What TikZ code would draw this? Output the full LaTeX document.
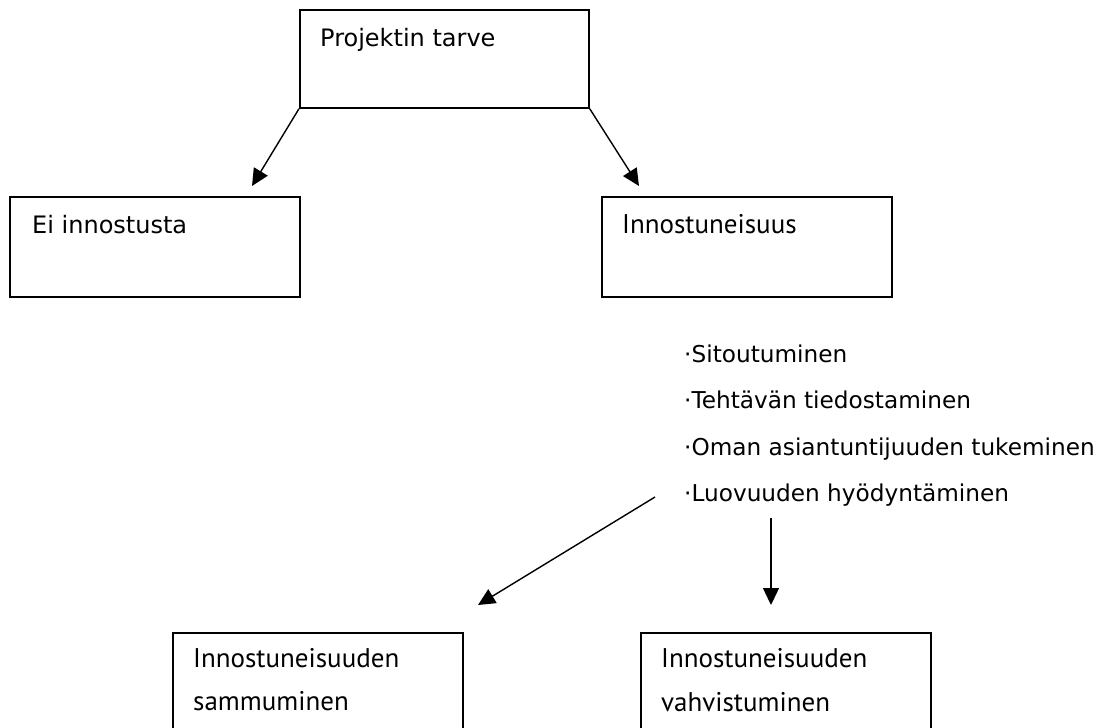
\documentclass[tikz,border=0pt]{standalone}
\usepackage{fontspec}
\setmainfont{DejaVu Sans}
\newfontfamily\humanist{PT Sans}
\usetikzlibrary{arrows.meta}
\begin{document}
\begin{tikzpicture}[x=1pt,y=-1pt,
  box/.style={draw,line width=1.7pt,minimum width=290pt,minimum height=100pt,inner sep=0pt,anchor=north west},
  txt/.style={inner sep=0pt,anchor=base west,font=\fontsize{24}{28}\selectfont},
  ftxt/.style={inner sep=0pt,anchor=base west,font=\fontsize{23.2}{28}\selectfont},
  htxt/.style={inner sep=0pt,anchor=base west,font=\humanist\fontsize{27}{30}\selectfont},
  arr/.style={line width=1.4pt,-{Triangle[length=17pt,width=16pt]}}]
\useasboundingbox (0,0) rectangle (1117,728);
\clip (0,0) rectangle (1117,728);

% boxes
\node[box,minimum width=289pt,minimum height=98pt] (need) at (299,9) {};
\node[box] (none) at (9,196) {};
\node[box] (enth) at (601,196) {};
\node[box,minimum height=140pt] (fade) at (172,632) {};
\node[box,minimum height=140pt] (grow) at (640,632) {};

% box texts
\node[txt] (needT) at (320,46) {Projektin tarve};
\node[txt] (noneT) at (32,233) {Ei innostusta};
\node[htxt] (enthT) at (622,233) {Innostuneisuus};
\node[htxt] (fadeA) at (193,667) {Innostuneisuuden};
\node[htxt] (fadeB) at (193,710) {sammuminen};
\node[htxt] (growA) at (661,667) {Innostuneisuuden};
\node[htxt] (growB) at (661,711) {vahvistuminen};

% factors
\node[ftxt] (f1) at (684,362) {·Sitoutuminen};
\node[ftxt] (f2) at (684,408) {·Tehtävän tiedostaminen};
\node[ftxt] (f3) at (684,455) {·Oman asiantuntijuuden tukeminen};
\node[ftxt] (f4) at (684,501) {·Luovuuden hyödyntäminen};

% connector ends
\coordinate (tipNone) at (252,186);
\coordinate (tipEnth) at (639,186);
\coordinate (fromF) at (655,497);
\coordinate (tipFade) at (478,605);
\coordinate (fromG) at (771,518);
\coordinate (tipGrow) at (771,605);

\draw[arr] (need.south west) -- (tipNone);
\draw[arr] (need.south east) -- (tipEnth);
\draw[arr] (fromF) -- (tipFade);
\draw[arr] (fromG) -- (tipGrow);
\end{tikzpicture}
\end{document}
